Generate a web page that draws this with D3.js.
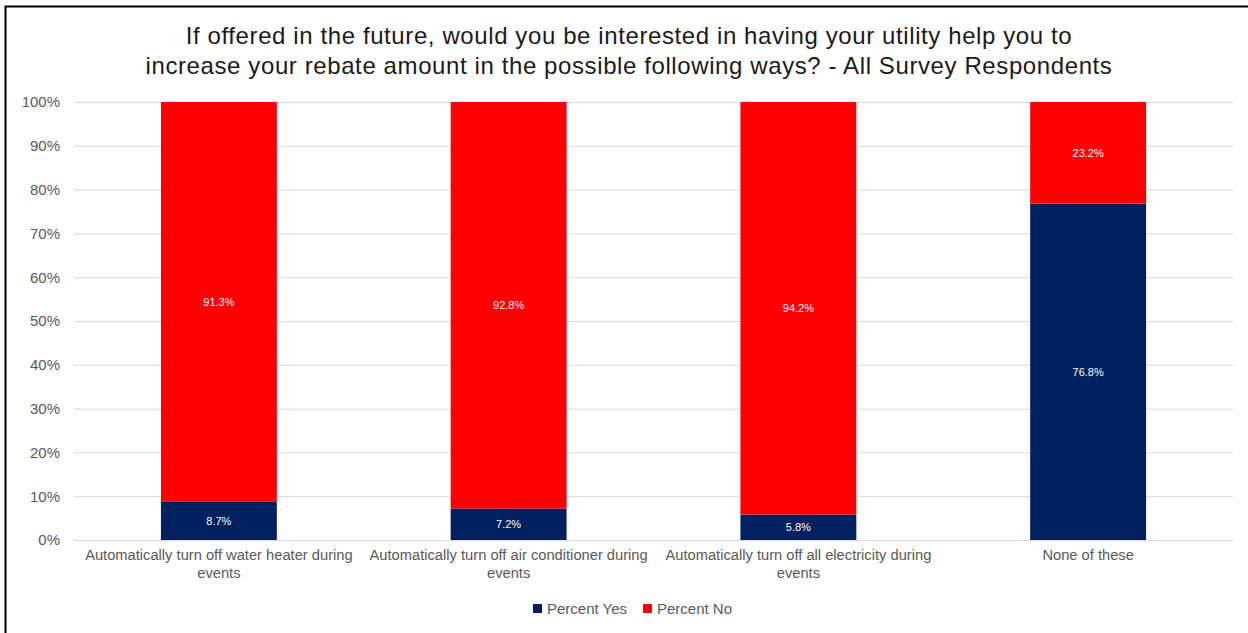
<!DOCTYPE html>
<html>
<head>
<meta charset="utf-8">
<script src="https://cdn.jsdelivr.net/npm/d3@7"></script>
<style>
  html, body { margin: 0; padding: 0; background: #fff; }
  svg { display: block; font-family: "Liberation Sans", Arial, sans-serif; }
</style>
</head>
<body>
<svg id="chart" width="1248" height="633"></svg>
<script>
const titleLines = [
  "If offered in the future, would you be interested in having your utility help you to",
  "increase your rebate amount in the possible following ways? - All Survey Respondents"
];
const categories = [
  "Automatically turn off water heater during events",
  "Automatically turn off air conditioner during events",
  "Automatically turn off all electricity during events",
  "None of these"
];
const seriesNames = ["Percent Yes", "Percent No"];
const percentYes = [8.7, 7.2, 5.8, 76.8];
const percentNo = [91.3, 92.8, 94.2, 23.2];
const yTicks = [0, 10, 20, 30, 40, 50, 60, 70, 80, 90, 100];
const colors = ["#002060", "#FF0000"];

const svg = d3.select("#chart");
const W = 1248, H = 633;
const plot = { left: 74, right: 1233, top: 102, bottom: 540 };

// outer border
svg.append("rect")
  .attr("x", 5.5).attr("y", 6.5)
  .attr("width", W + 10).attr("height", H + 10)
  .attr("fill", "#fff").attr("stroke", "#000").attr("stroke-width", 2);

// title
svg.append("g").selectAll("text").data(titleLines).join("text")
  .attr("x", 629).attr("y", (d, i) => 44 + i * 30)
  .attr("text-anchor", "middle")
  .attr("font-size", 24).attr("letter-spacing", 0.6).attr("fill", "#1a1a1a")
  .text(d => d);

const x = d3.scaleBand().domain(categories).range([plot.left, plot.right]).paddingInner(0.6).paddingOuter(0.3);
const y = d3.scaleLinear().domain([0, 100]).range([plot.bottom, plot.top]);

// gridlines
svg.append("g").selectAll("line").data(yTicks).join("line")
  .attr("x1", plot.left).attr("x2", plot.right)
  .attr("y1", d => y(d) + 0.5).attr("y2", d => y(d) + 0.5)
  .attr("stroke", "#d9d9d9").attr("stroke-width", 1);

// y axis
const yAxis = d3.axisLeft(y).tickValues(yTicks).tickFormat(d => d + "%").tickSize(0).tickPadding(14);
const yg = svg.append("g").attr("transform", `translate(${plot.left},0)`).call(yAxis);
yg.select(".domain").remove();
yg.selectAll("text").attr("font-size", 15).attr("fill", "#595959")
  .attr("font-family", '"Liberation Sans", Arial, sans-serif');

// stacked data
const rows = categories.map((c, i) => ({ cat: c, yes: percentYes[i], no: percentNo[i] }));
const stack = d3.stack().keys(["yes", "no"])(rows);

const layers = svg.append("g").selectAll("g").data(stack).join("g")
  .attr("fill", (d, i) => colors[i]);
layers.selectAll("rect").data(d => d).join("rect")
  .attr("x", d => x(d.data.cat))
  .attr("width", x.bandwidth())
  .attr("y", d => y(d[1]))
  .attr("height", d => y(d[0]) - y(d[1]));

// value labels
layers.selectAll("text").data(d => d).join("text")
  .attr("x", d => x(d.data.cat) + x.bandwidth() / 2)
  .attr("y", d => (y(d[0]) + y(d[1])) / 2 + 4)
  .attr("text-anchor", "middle")
  .attr("font-size", 11).attr("fill", "#fff")
  .text(d => (d[1] - d[0]).toFixed(1) + "%");

// x axis labels with wrapping
const xAxis = d3.axisBottom(x).tickSize(0).tickPadding(10);
const xg = svg.append("g").attr("transform", `translate(0,${plot.bottom})`).call(xAxis);
xg.select(".domain").remove();
xg.selectAll("text").attr("font-size", 14.7).attr("fill", "#595959")
  .attr("font-family", '"Liberation Sans", Arial, sans-serif')
  .each(function(d) {
    const t = d3.select(this);
    const words = d.split(/\s+/);
    t.text(null);
    const maxW = 284;
    let line = [];
    let tspan = t.append("tspan").attr("x", 0).attr("dy", "0.71em");
    for (const w of words) {
      line.push(w);
      tspan.text(line.join(" "));
      if (tspan.node().getComputedTextLength() > maxW && line.length > 1) {
        line.pop();
        tspan.text(line.join(" "));
        line = [w];
        tspan = t.append("tspan").attr("x", 0).attr("dy", "1.2em").text(w);
      }
    }
  });

// legend
const legend = svg.append("g").attr("transform", "translate(533,604)");
const legX = [0, 110];
seriesNames.forEach((s, i) => {
  const g = legend.append("g").attr("transform", `translate(${legX[i]},0)`);
  g.append("rect").attr("width", 9).attr("height", 9).attr("fill", colors[i]);
  g.append("text").attr("x", 14).attr("y", 10).attr("font-size", 15).attr("fill", "#595959").text(s);
});
</script>
</body>
</html>
